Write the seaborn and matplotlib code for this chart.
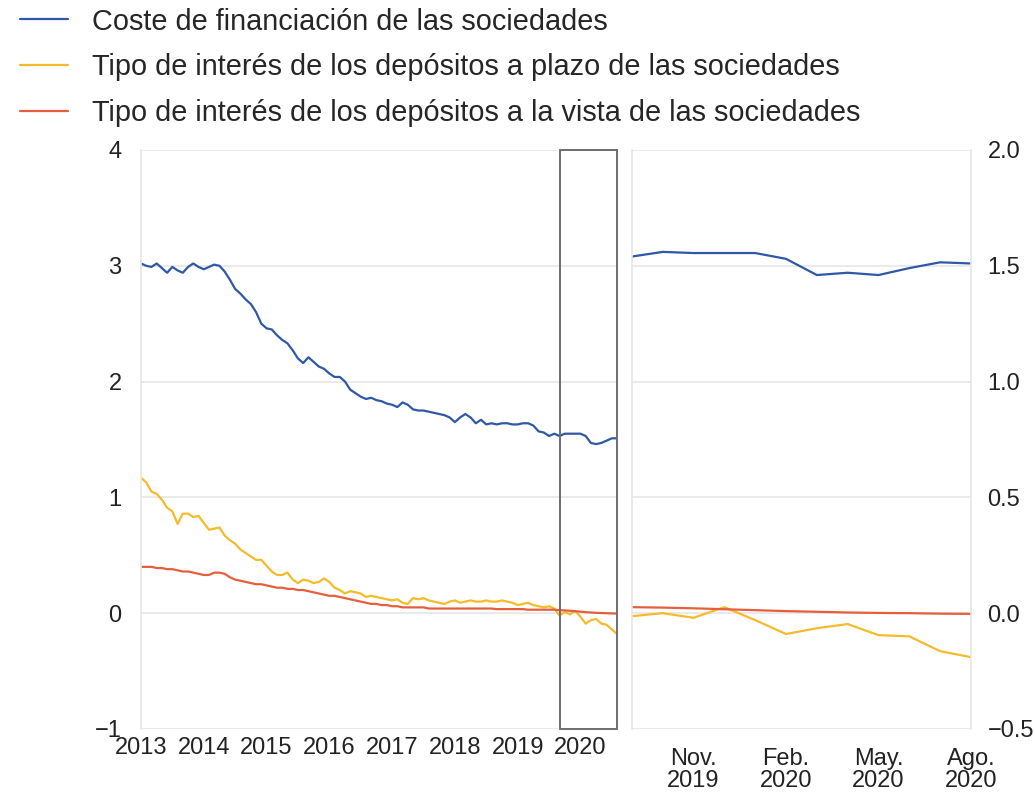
import numpy as np
import pandas as pd
import matplotlib
matplotlib.use("Agg")
import matplotlib.pyplot as plt
import seaborn as sns
from matplotlib.patches import Rectangle

# ---------------- data ----------------
series_names = [
    "Coste de financiación de las sociedades",
    "Tipo de interés de los depósitos a plazo de las sociedades",
    "Tipo de interés de los depósitos a la vista de las sociedades",
]
colors = ["#2f58a8", "#f5bb2a", "#e65f3c"]

# monthly, Jan 2013 .. Aug 2020 (92 values)
coste = [3.02, 3.00, 2.99, 3.02, 2.98, 2.94, 2.99, 2.96, 2.94, 2.99, 3.02, 2.99,
         2.97, 2.99, 3.01, 3.00, 2.95, 2.88, 2.80, 2.76, 2.71, 2.67, 2.60, 2.50,
         2.46, 2.45, 2.40, 2.36, 2.33, 2.27, 2.20, 2.16, 2.21, 2.17, 2.13, 2.11,
         2.07, 2.04, 2.04, 2.00, 1.93, 1.90, 1.87, 1.85, 1.86, 1.84, 1.83, 1.81,
         1.80, 1.78, 1.82, 1.80, 1.76, 1.75, 1.75, 1.74, 1.73, 1.72, 1.71, 1.69,
         1.65, 1.69, 1.72, 1.69, 1.64, 1.67, 1.63, 1.64, 1.63, 1.64, 1.64, 1.63,
         1.63, 1.64, 1.64, 1.62, 1.57, 1.56, 1.53, 1.55, 1.53, 1.55, 1.55, 1.55,
         1.55, 1.53, 1.47, 1.46, 1.47, 1.49, 1.51, 1.51]
plazo = [1.17, 1.13, 1.05, 1.03, 0.98, 0.91, 0.88, 0.77, 0.86, 0.86, 0.83, 0.84,
         0.78, 0.72, 0.73, 0.74, 0.67, 0.63, 0.60, 0.55, 0.52, 0.49, 0.46, 0.46,
         0.41, 0.36, 0.33, 0.33, 0.35, 0.29, 0.26, 0.29, 0.28, 0.26, 0.27, 0.30,
         0.27, 0.22, 0.20, 0.17, 0.19, 0.18, 0.17, 0.14, 0.15, 0.14, 0.13, 0.12,
         0.11, 0.12, 0.09, 0.08, 0.13, 0.12, 0.13, 0.11, 0.10, 0.09, 0.08, 0.10,
         0.11, 0.09, 0.10, 0.11, 0.10, 0.10, 0.11, 0.10, 0.10, 0.11, 0.10, 0.09,
         0.07, 0.08, 0.09, 0.07, 0.06, 0.05, 0.06, 0.04, -0.02, 0.01, -0.01, 0.02,
         -0.03, -0.09, -0.06, -0.05, -0.09, -0.10, -0.14, -0.18]
vista = [0.40, 0.40, 0.40, 0.39, 0.39, 0.38, 0.38, 0.37, 0.36, 0.36, 0.35, 0.34,
         0.33, 0.33, 0.35, 0.35, 0.34, 0.31, 0.29, 0.28, 0.27, 0.26, 0.25, 0.25,
         0.24, 0.23, 0.22, 0.22, 0.21, 0.21, 0.20, 0.20, 0.19, 0.18, 0.17, 0.16,
         0.15, 0.15, 0.14, 0.13, 0.12, 0.11, 0.10, 0.09, 0.08, 0.08, 0.07, 0.07,
         0.06, 0.06, 0.05, 0.05, 0.05, 0.05, 0.05, 0.04, 0.04, 0.04, 0.04, 0.04,
         0.04, 0.04, 0.04, 0.04, 0.04, 0.04, 0.04, 0.04, 0.035, 0.035, 0.035, 0.035,
         0.035, 0.035, 0.03, 0.03, 0.03, 0.03, 0.03, 0.03, 0.026, 0.024, 0.021, 0.017,
         0.013, 0.009, 0.006, 0.003, 0.001, 0.0, -0.002, -0.003]
year_ticks = [2013, 2014, 2015, 2016, 2017, 2018, 2019, 2020]

# zoom panel, Sep 2019 .. Aug 2020
zoom_months = ["Sep 2019", "Oct 2019", "Nov 2019", "Dec 2019", "Jan 2020", "Feb 2020",
               "Mar 2020", "Apr 2020", "May 2020", "Jun 2020", "Jul 2020", "Aug 2020"]
zoom_coste = [1.54, 1.56, 1.555, 1.555, 1.555, 1.53, 1.46, 1.47, 1.46, 1.49, 1.515, 1.51]
zoom_plazo = [-0.013, 0.0, -0.02, 0.026, -0.03, -0.09, -0.065, -0.047, -0.095, -0.10, -0.164, -0.19]
zoom_vista = [0.026, 0.024, 0.021, 0.017, 0.013, 0.009, 0.006, 0.003, 0.001, 0.0, -0.002, -0.003]
zoom_tick_labels = ["Nov.\n2019", "Feb.\n2020", "May.\n2020", "Ago.\n2020"]
zoom_tick_idx = [2, 5, 8, 11]

# ---------------- frames ----------------
n = len(coste)
t = 2013 + np.arange(n) / 12.0
df_left = pd.concat([
    pd.DataFrame({"t": t, "v": vals, "s": name})
    for name, vals in zip(series_names, [coste, plazo, vista])
])
nz = len(zoom_months)
df_right = pd.concat([
    pd.DataFrame({"t": np.arange(nz), "v": vals, "s": name})
    for name, vals in zip(series_names, [zoom_coste, zoom_plazo, zoom_vista])
])

# ---------------- figure ----------------
sns.set_theme(style="white")
plt.rcParams["font.family"] = ["Liberation Sans", "DejaVu Sans"]
palette = dict(zip(series_names, colors))

fig = plt.figure(figsize=(10.35, 7.94), dpi=100)
axL = fig.add_axes([0.1362, 0.0819, 0.4600, 0.7292])
axR = fig.add_axes([0.6106, 0.0819, 0.3275, 0.7292])

grid_c = "#e6e6e6"
tick_fs = 17

# left
sns.lineplot(data=df_left, x="t", y="v", hue="s", palette=palette, ax=axL,
             linewidth=1.6, legend=False)
axL.set_xlim(2013, t[-1])
axL.set_ylim(-1, 4)
axL.set_yticks([-1, 0, 1, 2, 3, 4])
axL.set_xticks(year_ticks)
axL.set_xticklabels([str(y) for y in year_ticks])
axL.yaxis.grid(True, color=grid_c, linewidth=1.2)
axL.set_axisbelow(True)
for s in ["top", "right", "bottom"]:
    axL.spines[s].set_visible(False)
axL.spines["left"].set_color(grid_c)
axL.spines["left"].set_linewidth(1.2)
axL.set_xlabel("")
axL.set_ylabel("")
axL.tick_params(axis="both", length=0, labelsize=tick_fs, colors="#222222")
axL.tick_params(axis="y", pad=14)
axL.tick_params(axis="x", pad=6)
rect_x0 = t[n - nz]
axL.add_patch(Rectangle((rect_x0, -1), t[-1] - rect_x0, 5, fill=False,
                        edgecolor="#6e6e6e", linewidth=1.4, clip_on=False, zorder=5))

# right
sns.lineplot(data=df_right, x="t", y="v", hue="s", palette=palette, ax=axR,
             linewidth=1.6, legend=False)
axR.set_xlim(0, nz - 1)
axR.set_ylim(-0.5, 2.0)
axR.set_yticks([-0.5, 0.0, 0.5, 1.0, 1.5, 2.0])
axR.set_yticklabels(["\u22120.5", "0.0", "0.5", "1.0", "1.5", "2.0"])
axR.yaxis.tick_right()
axR.set_xticks(zoom_tick_idx)
axR.set_xticklabels(zoom_tick_labels)
axR.yaxis.grid(True, color=grid_c, linewidth=1.2)
axR.set_axisbelow(True)
for s in ["top", "bottom"]:
    axR.spines[s].set_visible(False)
for s in ["left", "right"]:
    axR.spines[s].set_color(grid_c)
    axR.spines[s].set_linewidth(1.2)
axR.set_xlabel("")
axR.set_ylabel("")
axR.tick_params(axis="both", length=0, labelsize=tick_fs, colors="#222222")
axR.tick_params(axis="y", pad=12)
axR.tick_params(axis="x", pad=14)
for lab in axR.get_xticklabels():
    lab.set_linespacing(0.95)

# legend
handles = [plt.Line2D([], [], color=c, linewidth=1.6) for c in colors]
fig.legend(handles, series_names, loc="upper left", bbox_to_anchor=(0.0, 1.016),
           frameon=False, fontsize=20.8, handlelength=1.65, handletextpad=0.85,
           labelspacing=0.62, borderaxespad=0.3)

fig.savefig("out.png", dpi=100, facecolor="white")
